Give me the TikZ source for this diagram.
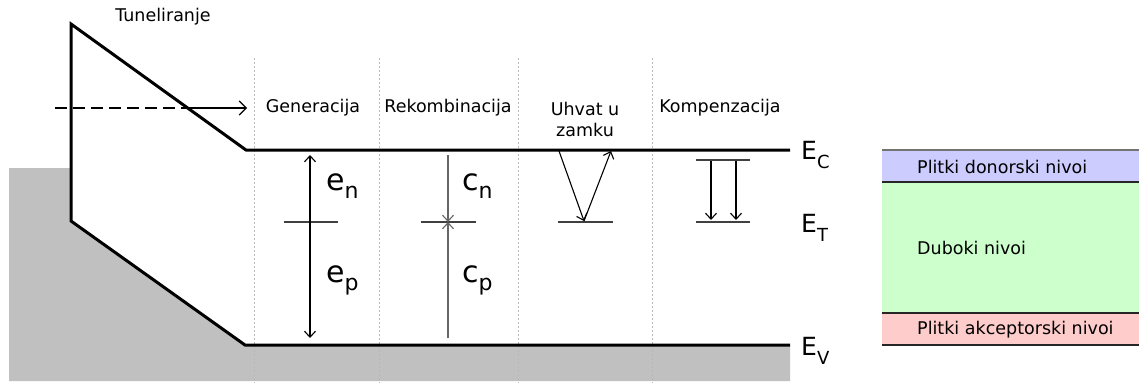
\documentclass[tikz,border=0pt]{standalone}
\usepackage{fontspec}
\setmainfont{DejaVu Sans}
\usetikzlibrary{arrows.meta}
\definecolor{bgray}{HTML}{C0C0C0}
\definecolor{dblue}{HTML}{CCCCFF}
\definecolor{dgreen}{HTML}{CCFFCC}
\definecolor{dpink}{HTML}{FFCCCC}
\begin{document}
\begin{tikzpicture}[x=1pt,y=-1pt,
  band/.style={line width=3pt},
  sepline/.style={draw=black!28, line width=0.8pt, dash pattern=on 2pt off 2pt},
  lbl/.style={font=\fontsize{17.5}{21}\selectfont, inner sep=0pt, align=center},
  trap/.style={line width=2pt, draw=black!75},
  thinline/.style={line width=1.1pt},
  tip/.style={-{Straight Barb[length=6pt,width=11pt]}},
  dtip/.style={{Straight Barb[length=6pt,width=11pt]}-{Straight Barb[length=6pt,width=11pt]}},
  big/.style={inner sep=0pt, anchor=base west},
  boxtxt/.style={font=\fontsize{17.5}{21}\selectfont, inner sep=0pt, anchor=west},
  rowline/.style={line width=1.3pt, draw=black!85}
]
\useasboundingbox (0,0) rectangle (1139,383);
% gray (valence) region
\fill[bgray] (9,168) -- (71,168) -- (71,221) -- (245,345) -- (790,345) -- (790,381) -- (9,381) -- cycle;
% separators
\foreach \xx in {254,379,518,652} \draw[sepline] (\xx,58) -- (\xx,383);
% band edges
\coordinate (cR) at (790,150);
\coordinate (cL) at (246,150);
\coordinate (top) at (71,24);
\coordinate (bot) at (71,221);
\coordinate (vL) at (245,345);
\coordinate (vR) at (790,345);
\draw[band] (cR) -- (cL) -- (top) -- (bot) -- (vL) -- (vR);
% tunnelling
\coordinate (t0) at (55,108);
\coordinate (t1) at (188,108);
\coordinate (t2) at (247,108);
\draw[thinline, dash pattern=on 12pt off 6pt] (t0) -- (t1);
\draw[thinline, -{Straight Barb[length=7pt,width=14pt]}] (t1) -- (t2);
\node[lbl] (tun) at (163,17) {Tuneliranje};
% column titles
\node[lbl] (gen) at (313,108) {Generacija};
\node[lbl] (rek) at (448,108) {Rekombinacija};
\node[lbl, font=\fontsize{17.5}{21}\selectfont] (uhv) at (585,119) {Uhvat u\\zamku};
\node[lbl] (kom) at (720,108) {Kompenzacija};
% generation
\coordinate (gA) at (284,222); \coordinate (gB) at (338,222);
\draw[trap] (gA) -- (gB);
\coordinate (g1) at (310,155); \coordinate (g2) at (310,338);
\draw[thinline, dtip] (g1) -- (g2);
\node[big] (en) at (326,190) {\fontsize{30}{30}\selectfont e\raisebox{-8pt}{\fontsize{22}{22}\selectfont n}};
\node[big] (ep) at (326,282) {\fontsize{30}{30}\selectfont e\raisebox{-8pt}{\fontsize{22}{22}\selectfont p}};
% recombination
\coordinate (rA) at (421,222); \coordinate (rB) at (476,222);
\draw[trap] (rA) -- (rB);
\coordinate (r1) at (448,155); \coordinate (rm) at (448,222); \coordinate (r2) at (448,338);
\draw[thinline, draw=black!60, tip] (r1) -- (rm);
\draw[thinline, draw=black!60, tip] (r2) -- (rm);
\node[big] (cn) at (462,190) {\fontsize{30}{30}\selectfont c\raisebox{-8pt}{\fontsize{22}{22}\selectfont n}};
\node[big] (cp) at (462,282) {\fontsize{30}{30}\selectfont c\raisebox{-8pt}{\fontsize{22}{22}\selectfont p}};
% trapping
\coordinate (uA) at (558,222); \coordinate (uB) at (613,222);
\draw[trap] (uA) -- (uB);
\coordinate (u1) at (559,151); \coordinate (um) at (584,221); \coordinate (u2) at (611,151);
\draw[thinline, tip] (u1) -- (um);
\draw[thinline, tip] (um) -- (u2);
% compensation
\coordinate (kA) at (696,160); \coordinate (kB) at (750,160);
\coordinate (kC) at (696,222); \coordinate (kD) at (750,222);
\draw[trap] (kA) -- (kB);
\draw[trap] (kC) -- (kD);
\coordinate (k1) at (711,161); \coordinate (k2) at (711,220);
\coordinate (k3) at (736,161); \coordinate (k4) at (736,220);
\draw[thinline, tip] (k1) -- (k2);
\draw[thinline, tip] (k3) -- (k4);
% energy labels
\node[big] (EC) at (801,159) {\fontsize{25}{25}\selectfont E\raisebox{-9pt}{\fontsize{18}{18}\selectfont C}};
\node[big] (ET) at (801,232) {\fontsize{25}{25}\selectfont E\raisebox{-9pt}{\fontsize{18}{18}\selectfont T}};
\node[big] (EV) at (801,355) {\fontsize{25}{25}\selectfont E\raisebox{-9pt}{\fontsize{18}{18}\selectfont V}};
% right legend
\fill[dblue] (882,150) rectangle (1139,182);
\fill[dgreen] (882,182) rectangle (1139,313);
\fill[dpink] (882,313) rectangle (1139,345);
\draw[line width=1.3pt, draw=black!55] (882,150) -- (1139,150);
\draw[rowline] (882,182) -- (1139,182);
\draw[rowline] (882,313) -- (1139,313);
\draw[rowline] (882,345) -- (1139,345);
\node[boxtxt] (d1) at (917,167) {Plitki donorski nivoi};
\node[boxtxt] (d2) at (917,248) {Duboki nivoi};
\node[boxtxt] (d3) at (917,330) {Plitki akceptorski nivoi};
\end{tikzpicture}
\end{document}
